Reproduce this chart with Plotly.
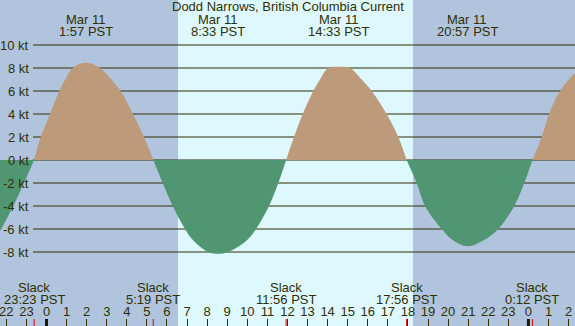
import plotly.graph_objects as go

# ---- data (hours since Mar 11 00:00 PST) ----
curve_hours = [-2.316, -1.653, -1.121, -0.617,
               -0.289, 0.174, 0.637, 0.936, 1.305, 1.95, 2.664, 3.227, 3.695, 4.308, 4.856, 5.317,
               5.787, 6.285, 6.897, 7.311, 8.058, 8.55, 9.054, 9.970, 10.433, 11.081, 11.544, 11.933,
               12.326, 12.759, 13.287, 13.62, 14.034, 14.58, 15.11, 15.697, 16.195, 16.942, 17.52, 17.933,
               18.436, 18.850, 19.681, 20.26, 20.95, 21.75, 22.500, 23.297, 23.795, 24.2,
               24.661, 25.025, 25.573, 26.32, 26.72]
curve_kt = [-6.2, -4.0, -2.0, 0.0,
            2.0, 4.0, 6.0, 7.0, 8.0, 8.45, 8.0, 7.0, 6.0, 4.0, 2.0, 0.0,
            -2.0, -4.0, -6.0, -7.0, -8.0, -8.15, -8.0, -7.0, -6.0, -4.0, -2.0, 0.0,
            2.0, 4.0, 6.0, 7.0, 8.0, 8.1, 8.0, 7.0, 6.0, 4.0, 2.0, 0.0,
            -2.0, -4.0, -6.0, -7.0, -7.5, -7.0, -6.0, -4.0, -2.0, 0.0,
            2.0, 4.0, 6.0, 7.54, 7.9]

max_hours = [1.95, 8.55, 14.55, 20.95, 26.72]
max_dates = ["Mar 11", "Mar 11", "Mar 11", "Mar 11", "Mar 12"]
max_times = ["1:57 PST", "8:33 PST", "14:33 PST", "20:57 PST", "2:43 PST"]

slack_hours = [-0.617, 5.317, 11.933, 17.933, 24.2]
slack_times = ["23:23 PST", "5:19 PST", "11:56 PST", "17:56 PST", "0:12 PST"]

sunrise_hour = 6.55
sunset_hour = 18.25

y_ticks = [10, 8, 6, 4, 2, 0, -2, -4, -6, -8]
hour_ticks = list(range(-2, 27))
midnight_hours = [0, 24]

title = "Dodd Narrows, British Columbia Current"

# ---- styling ----
W, H = 575, 326
NIGHT = "#B0C4DE"
DAY = "#DEF8FF"
FLOOD = "#BC9A7A"
EBB = "#509672"
FG = "#2F2F00"
FONT = "Liberation Sans, Arial, sans-serif"
X_RANGE = [-2.3157, 26.320]
Y_RANGE = [-14.435, 13.913]


def py(px):
    return 1 - px / H


fig = go.Figure()

# split the curve into half-cycles at slack (zero) points
segments = []
cur_x, cur_y = [], []
for h, v in zip(curve_hours, curve_kt):
    cur_x.append(h)
    cur_y.append(v)
    if v == 0 and len(cur_x) > 1:
        segments.append((cur_x, cur_y))
        cur_x, cur_y = [h], [v]
if len(cur_x) > 1:
    segments.append((cur_x, cur_y))

for sx, sy in segments:
    col = FLOOD if max(sy) > 0 else EBB
    fig.add_trace(go.Scatter(x=sx, y=sy, mode="lines", fill="tozeroy",
                             fillcolor=col,
                             line=dict(width=0, shape="spline", smoothing=1.0, color=col),
                             hoverinfo="skip"))

shapes = []
# day background
shapes.append(dict(type="rect", xref="x", yref="paper", x0=sunrise_hour, x1=sunset_hour,
                   y0=0, y1=1, fillcolor=DAY, line=dict(width=0), layer="below"))
# gridlines
for v in y_ticks:
    shapes.append(dict(type="line", xref="paper", yref="y", x0=33 / W, x1=1, y0=v, y1=v,
                       line=dict(color=FG, width=1), layer="below"))
# midnight thick ticks
for m in midnight_hours:
    shapes.append(dict(type="line", xref="x", yref="paper", x0=m, x1=m, y0=0, y1=7 / H,
                       line=dict(color="#1a1a00", width=3), layer="above"))
# slack red ticks
for s in slack_hours:
    shapes.append(dict(type="line", xref="x", yref="paper", x0=s, x1=s, y0=0, y1=7 / H,
                       line=dict(color="#E00000", width=1), layer="above"))

ann = []
fnt = dict(family=FONT, size=13, color=FG)
ann.append(dict(text=title, xref="paper", yref="paper", x=0.5, y=py(7),
                showarrow=False, font=fnt, xanchor="center", yanchor="middle"))
for h, d, t in zip(max_hours, max_dates, max_times):
    ann.append(dict(text=d, xref="x", yref="paper", x=h, y=py(19), showarrow=False,
                    font=fnt, xanchor="center", yanchor="middle"))
    ann.append(dict(text=t, xref="x", yref="paper", x=h, y=py(32), showarrow=False,
                    font=fnt, xanchor="center", yanchor="middle"))
for h, t in zip(slack_hours, slack_times):
    ann.append(dict(text="Slack", xref="x", yref="paper", x=h, y=py(287), showarrow=False,
                    font=fnt, xanchor="center", yanchor="middle"))
    ann.append(dict(text=t, xref="x", yref="paper", x=h, y=py(299), showarrow=False,
                    font=fnt, xanchor="center", yanchor="middle"))
for v in y_ticks:
    ann.append(dict(text=f"{v} kt", xref="paper", yref="y", x=31 / W, y=v, showarrow=False,
                    font=fnt, xanchor="right", yanchor="middle"))

fig.update_layout(
    width=W, height=H,
    margin=dict(l=0, r=0, t=0, b=0, pad=0),
    paper_bgcolor=NIGHT, plot_bgcolor=NIGHT,
    showlegend=False,
    shapes=shapes, annotations=ann,
    font=fnt,
    xaxis=dict(range=X_RANGE, showgrid=False, zeroline=False, showline=False,
               tickmode="array", tickvals=hour_ticks,
               ticktext=[str(h % 24) for h in hour_ticks],
               ticks="inside", ticklen=7, tickwidth=1, tickcolor=FG,
               ticklabelposition="inside", ticklabeloverflow="allow",
               tickfont=fnt, automargin=False, fixedrange=True),
    yaxis=dict(range=Y_RANGE, visible=False, fixedrange=True),
)

fig.write_html("out.html", config={"displayModeBar": False},
               post_script="document.body.style.margin='0';document.body.style.overflow='hidden';")
